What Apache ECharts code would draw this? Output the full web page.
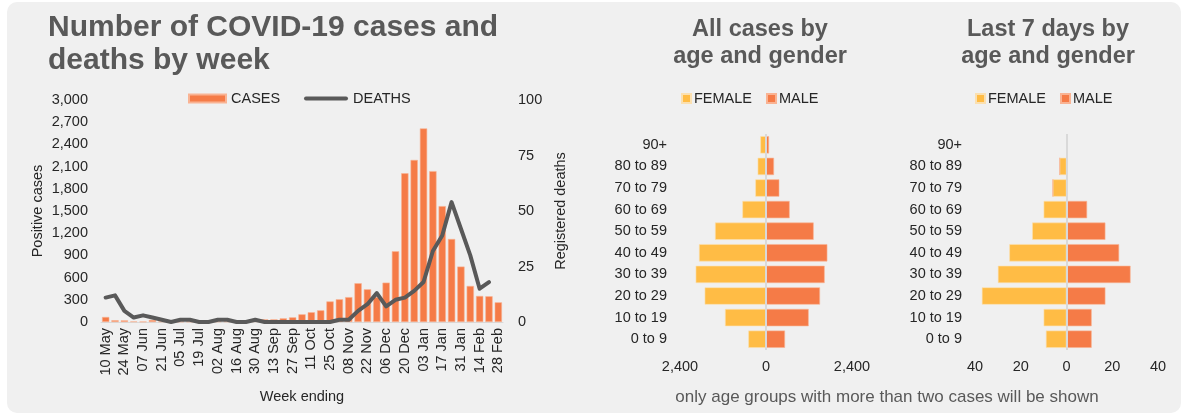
<!DOCTYPE html>
<html>
<head>
<meta charset="utf-8">
<script src="https://cdn.jsdelivr.net/npm/echarts@6/dist/echarts.min.js"></script>
<style>
  html, body { margin: 0; padding: 0; background: #ffffff; }
  #chart { width: 1187px; height: 416px; }
</style>
</head>
<body>
<div id="chart"></div>
<script>
// ---------- DATA ----------
const weeks = ['10 May','17 May','24 May','31 May','07 Jun','14 Jun','21 Jun','28 Jun','05 Jul','12 Jul','19 Jul','26 Jul',
  '02 Aug','09 Aug','16 Aug','23 Aug','30 Aug','06 Sep','13 Sep','20 Sep','27 Sep','04 Oct','11 Oct','18 Oct','25 Oct',
  '01 Nov','08 Nov','15 Nov','22 Nov','29 Nov','06 Dec','13 Dec','20 Dec','27 Dec','03 Jan','10 Jan','17 Jan','24 Jan',
  '31 Jan','07 Feb','14 Feb','21 Feb','28 Feb'];
const cases = [68, 24, 22, 8, 5, 28, 8, 5, 5, 5, 5, 5, 8, 8, 8, 10, 15, 36, 36, 50, 63, 104, 132, 158, 278,
  307, 336, 524, 442, 338, 532, 956, 2010, 2190, 2616, 2039, 1566, 1122, 749, 487, 352, 348, 266];
const deaths = [11, 12, 5, 2, 3, 2, 1, 0, 1, 1, 0, 0, 1, 1, 0, 0, 1, 0, 0, 0, 0, 0, 0, 0, 0,
  1, 1, 5, 8, 13, 7, 10, 11, 14, 18, 32, 39, 54, 42, 30, 15, 18, null];
const ageGroups = ['0 to 9','10 to 19','20 to 29','30 to 39','40 to 49','50 to 59','60 to 69','70 to 79','80 to 89','90+'];
const allFemale = [493, 1144, 1712, 1963, 1870, 1423, 660, 298, 233, 158];
const allMale   = [530, 1191, 1507, 1637, 1712, 1330, 660, 372, 223, 84];
const weekFemale = [9, 10, 37, 30, 25, 15, 10, 6, 3, 0];
const weekMale   = [11, 11, 17, 28, 23, 17, 9, 0, 0, 0];

// ---------- STYLE ----------
const ORANGE = '#F57B47';
const YELLOW = '#FFBC45';
const DARK = '#595959';
const TXT = '#262626';
const FONT = 'Liberation Sans, Arial, sans-serif';
const FS = 14.5;

const fmt = v => Math.abs(v).toLocaleString('en-US');

const chart = echarts.init(document.getElementById('chart'), null, { renderer: 'canvas' });

const pyramidY = (gi) => ({
  type: 'category', gridIndex: gi, data: ageGroups,
  axisLine: { show: false, onZero: false }, axisTick: { show: false },
  axisLabel: { color: TXT, fontSize: FS, fontFamily: FONT, margin: 13 }
});
const pyramidX = (gi, lim, step) => ({
  type: 'value', gridIndex: gi, min: -lim, max: lim, interval: step,
  axisLine: { show: false }, axisTick: { show: false }, splitLine: { show: false },
  axisLabel: { color: TXT, fontSize: FS, fontFamily: FONT, margin: 9, formatter: fmt }
});
const zeroLine = {
  silent: true, symbol: 'none', label: { show: false },
  lineStyle: { color: '#d9d9d9', type: 'solid', width: 2 },
  data: [{ xAxis: 0 }]
};
const legendText = { color: TXT, fontSize: FS, fontFamily: FONT };

const option = {
  animation: false,
  textStyle: { fontFamily: FONT },
  graphic: [{
    type: 'rect', z: -10, silent: true,
    shape: { x: 7, y: 2, width: 1174, height: 411, r: 10 },
    style: { fill: '#f0f0f0' }
  }],
  title: [
    { text: 'Number of COVID-19 cases and\ndeaths by week', left: 43, top: 6,
      textStyle: { color: DARK, fontSize: 30, fontWeight: 'bold', fontFamily: FONT, lineHeight: 33 } },
    { text: 'All cases by\nage and gender', left: 755, top: 11, textAlign: 'center',
      textStyle: { color: DARK, fontSize: 23.5, fontWeight: 'bold', fontFamily: FONT, lineHeight: 27 } },
    { text: 'Last 7 days by\nage and gender', left: 1043, top: 11, textAlign: 'center',
      textStyle: { color: DARK, fontSize: 23.5, fontWeight: 'bold', fontFamily: FONT, lineHeight: 27 } },
    { text: 'only age groups with more than two cases will be shown', left: 882, top: 384, textAlign: 'center',
      textStyle: { color: DARK, fontSize: 17, fontWeight: 'normal', fontFamily: FONT } }
  ],
  legend: [
    { data: [{ name: 'CASES', icon: 'rect' }], left: 183, top: 86,
      itemWidth: 37, itemHeight: 8, textStyle: legendText },
    { data: [{ name: 'DEATHS', icon: 'path://M2,0 L42,0 A2,2 0 0 1 42,4 L2,4 A2,2 0 0 1 2,0 Z' }], left: 299, top: 86,
      itemWidth: 44, itemHeight: 5, itemGap: 4, textStyle: legendText },
    { data: ['FEMALE', 'MALE'], left: 676, top: 86, itemGap: 14, icon: 'rect',
      itemWidth: 9, itemHeight: 9, textStyle: Object.assign({ padding: [0, 0, 0, -2] }, legendText) },
    { data: ['FEMALE', 'MALE'], left: 970, top: 86, itemGap: 14, icon: 'rect',
      itemWidth: 9, itemHeight: 9, textStyle: Object.assign({ padding: [0, 0, 0, -2] }, legendText) }
  ],
  grid: [
    { left: 101, top: 100, width: 402, height: 222, containLabel: false },
    { left: 680, top: 134, width: 172, height: 216 },
    { left: 975, top: 134, width: 183, height: 216 }
  ],
  xAxis: [
    { type: 'category', gridIndex: 0, data: weeks, boundaryGap: true,
      axisLine: { lineStyle: { color: '#d9d9d9', width: 1 } }, axisTick: { show: false },
      axisLabel: { rotate: 90, interval: 1, color: TXT, fontSize: FS, fontFamily: FONT, margin: 6 },
      name: 'Week ending', nameLocation: 'middle', nameGap: 67,
      nameTextStyle: { color: TXT, fontSize: FS, fontFamily: FONT } },
    pyramidX(1, 2400, 2400),
    pyramidX(2, 40, 20)
  ],
  yAxis: [
    { type: 'value', gridIndex: 0, min: 0, max: 3000, interval: 300,
      axisLine: { show: false }, axisTick: { show: false }, splitLine: { show: false },
      axisLabel: { color: TXT, fontSize: FS, fontFamily: FONT, margin: 13, formatter: v => v.toLocaleString('en-US') },
      name: 'Positive cases', nameLocation: 'middle', nameGap: 56, nameRotate: 90,
      nameTextStyle: { color: TXT, fontSize: FS, fontFamily: FONT } },
    { type: 'value', gridIndex: 0, min: 0, max: 100, interval: 25, position: 'right',
      axisLine: { show: false }, axisTick: { show: false }, splitLine: { show: false },
      axisLabel: { color: TXT, fontSize: FS, fontFamily: FONT, margin: 15 },
      name: 'Registered deaths', nameLocation: 'middle', nameGap: 50, nameRotate: 90,
      nameTextStyle: { color: TXT, fontSize: FS, fontFamily: FONT } },
    pyramidY(1),
    pyramidY(2)
  ],
  series: [
    { name: 'CASES', type: 'bar', xAxisIndex: 0, yAxisIndex: 0, data: cases,
      barCategoryGap: '22%', itemStyle: { color: ORANGE, borderColor: '#f9b393', borderWidth: 0.6 } },
    { name: 'DEATHS', type: 'line', xAxisIndex: 0, yAxisIndex: 1, data: deaths,
      symbol: 'none', showSymbol: false, lineStyle: { color: DARK, width: 4, cap: 'round', join: 'round' },
      itemStyle: { color: DARK }, z: 5 },
    { name: 'FEMALE', type: 'bar', xAxisIndex: 1, yAxisIndex: 2, stack: 'all', data: allFemale.map(v => -v),
      barCategoryGap: '20%', itemStyle: { color: YELLOW, borderColor: '#fbe0b0', borderWidth: 0.6 },
      markLine: zeroLine },
    { name: 'MALE', type: 'bar', xAxisIndex: 1, yAxisIndex: 2, stack: 'all', data: allMale,
      barCategoryGap: '20%', itemStyle: { color: ORANGE, borderColor: '#f9b393', borderWidth: 0.6 } },
    { name: 'FEMALE', type: 'bar', xAxisIndex: 2, yAxisIndex: 3, stack: 'week', data: weekFemale.map(v => -v),
      barCategoryGap: '20%', itemStyle: { color: YELLOW, borderColor: '#fbe0b0', borderWidth: 0.6 },
      markLine: zeroLine },
    { name: 'MALE', type: 'bar', xAxisIndex: 2, yAxisIndex: 3, stack: 'week', data: weekMale,
      barCategoryGap: '20%', itemStyle: { color: ORANGE, borderColor: '#f9b393', borderWidth: 0.6 } }
  ]
};
chart.setOption(option);
</script>
</body>
</html>
